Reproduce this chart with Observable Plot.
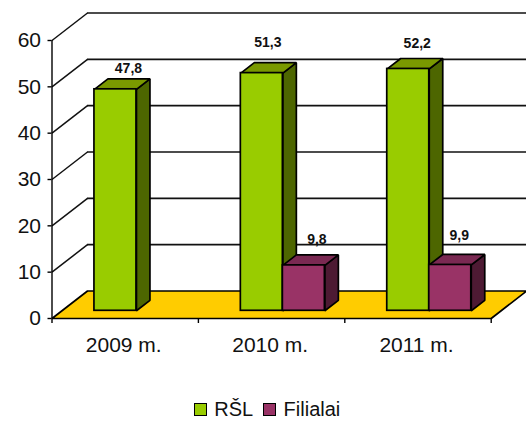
<!DOCTYPE html>
<html>
<head>
<meta charset="utf-8">
<script src="https://cdn.jsdelivr.net/npm/d3@7"></script>
<script src="https://cdn.jsdelivr.net/npm/@observablehq/plot@0.6"></script>
<style>
  html, body { margin: 0; padding: 0; background: #fff; }
  svg { display: block; }
  #legend {
    height: 23px; display: flex; align-items: center; justify-content: center;
    padding-left: 8px; box-sizing: border-box; width: 526px;
    font: 20px "Liberation Sans", Arial, sans-serif; color: #111;
  }
  #legend .item { display: flex; align-items: center; margin: 0 5px; }
  #legend .sw { width: 11px; height: 11px; border: 1.5px solid #000; margin-right: 7.5px; }
</style>
</head>
<body>
<div id="chart"></div>
<div id="legend"></div>
<script>
const years = ["2009 m.", "2010 m.", "2011 m."];
const seriesNames = ["RŠL", "Filialai"];
const rsl = [47.8, 51.3, 52.2];
const filialai = [null, 9.8, 9.9];
const yTicks = [0, 10, 20, 30, 40, 50, 60];
const frontColors = ["#99CC00", "#993366"];
const sideColors = ["#4D6600", "#4D1A33"];
const topColors = ["#7A9900", "#7A2952"];
const floorColor = "#FFCC00";
const labelNudges = [[[13, -10], [6, -20], [9, -15]], [null, [13, -15], [9, -19]]];

const depthX = 0.2425, depthY = 5.94;        // full chart depth in data units
const near = 0.28, far = 0.66;               // bar front and back, as a share of the depth
const barStart = 0.222, barWidth = 0.287;    // within one category band
const ink = "#000";
const px = (x, d) => x + d * depthX;
const py = (y, d) => y + d * depthY;

const bars = [rsl, filialai].flatMap((values, s) =>
  values.map((v, i) => v == null ? null : {
    s, i, v,
    x0: i + barStart + s * barWidth,
    x1: i + barStart + (s + 1) * barWidth
  }).filter(Boolean)
);

const poly = (id, pts) => pts.map(([x, y]) => ({id, x, y}));
const faces = (s, kind) => bars.filter(b => b.s === s).flatMap((b, n) => kind === "side"
  ? poly(n, [[px(b.x1, near), py(0, near)], [px(b.x1, far), py(0, far)], [px(b.x1, far), py(b.v, far)], [px(b.x1, near), py(b.v, near)]])
  : poly(n, [[px(b.x0, near), py(b.v, near)], [px(b.x1, near), py(b.v, near)], [px(b.x1, far), py(b.v, far)], [px(b.x0, far), py(b.v, far)]])
);
const polyMark = (data, fill) => Plot.line(data, {
  x: "x", y: "y", z: "id", curve: "linear-closed", fill,
  stroke: ink, strokeWidth: 1.7, strokeLinejoin: "miter"
});

const floor = poly("floor", [[0, 0], [3, 0], [px(3, 1), py(0, 1)], [px(0, 1), py(0, 1)]]);
const nYears = years.length;

const marks = [
  polyMark(floor, floorColor),
  Plot.ruleY(yTicks.slice(1), {y: v => py(v, 1), x1: px(0, 1), x2: px(nYears, 1), stroke: "#111", strokeWidth: 1.7}),
  Plot.link(yTicks.slice(1), {x1: 0, y1: v => v, x2: px(0, 1), y2: v => py(v, 1), stroke: "#111", strokeWidth: 1.5}),
  Plot.ruleX([0], {y1: 0, y2: 60, stroke: ink, strokeWidth: 1.4}),
  Plot.axisY({ticks: yTicks, tickSize: 4, tickPadding: 7, label: null, fontSize: 21, stroke: ink, strokeWidth: 1.4, color: "#111"}),
  Plot.axisX({ticks: d3.range(nYears + 1), tickSize: 5, tickFormat: () => "", label: null, stroke: ink, strokeWidth: 1.4}),
  Plot.text(years, {x: (d, i) => i + 0.49, y: 0, text: d => d, dy: 27, fontSize: 21, fill: "#111"})
];

seriesNames.forEach((name, s) => {
  const own = bars.filter(b => b.s === s);
  marks.push(
    polyMark(faces(s, "side"), sideColors[s]),
    polyMark(faces(s, "top"), topColors[s]),
    Plot.rect(own, {
      x1: b => px(b.x0, near), x2: b => px(b.x1, near),
      y1: b => py(0, near), y2: b => py(b.v, near),
      fill: frontColors[s], stroke: ink, strokeWidth: 1.7, inset: 0
    })
  );
});

bars.forEach(b => {
  const [dx, dy] = labelNudges[b.s][b.i];
  marks.push(Plot.text([b], {
    x: d => px((d.x0 + d.x1) / 2, near),
    y: d => py(d.v, far),
    text: d => d.v.toFixed(1).replace(".", ","),
    dx, dy, fontSize: 14, fontWeight: "bold", fill: "#111"
  }));
});

const plot = Plot.plot({
  width: 526, height: 398,
  marginLeft: 51.5, marginRight: 35.3, marginTop: 40, marginBottom: 80,
  style: {fontFamily: '"Liberation Sans", Arial, sans-serif', background: "#fff", overflow: "visible"},
  x: {type: "linear", domain: [0, nYears], axis: null},
  y: {type: "linear", domain: [0, 60], axis: null},
  marks
});
document.getElementById("chart").appendChild(plot);

const legend = document.getElementById("legend");
seriesNames.forEach((name, s) => {
  const item = document.createElement("div");
  item.className = "item";
  const sw = document.createElement("div");
  sw.className = "sw";
  sw.style.background = frontColors[s];
  const label = document.createElement("span");
  label.textContent = name;
  item.append(sw, label);
  legend.append(item);
});
</script>
</body>
</html>
